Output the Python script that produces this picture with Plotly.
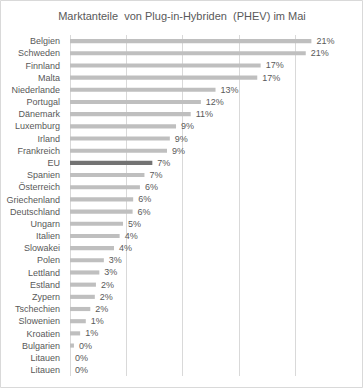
import plotly.graph_objects as go

countries = ["Belgien", "Schweden", "Finnland", "Malta", "Niederlande", "Portugal",
             "Dänemark", "Luxemburg", "Irland", "Frankreich", "EU", "Spanien",
             "Österreich", "Griechenland", "Deutschland", "Ungarn", "Italien",
             "Slowakei", "Polen", "Lettland", "Estland", "Zypern", "Tschechien",
             "Slowenien", "Kroatien", "Bulgarien", "Litauen", "Litauen"]
shares = [21.4, 20.9, 16.9, 16.6, 12.9, 11.6, 10.7, 9.4, 8.85, 8.6, 7.3, 6.6,
          6.2, 5.6, 5.55, 4.7, 4.4, 3.9, 3.0, 2.6, 2.3, 2.2, 1.8, 1.4, 0.9, 0.35, 0.0, 0.0]
x_ticks = [0, 5, 10, 15, 20, 25]

W, H = 364, 389
ml, mr, mt, mb = 70, 12, 35, 13

positions = list(range(len(countries)))
colors = ["#737373" if c == "EU" else "#BFBFBF" for c in countries]

fig = go.Figure(go.Bar(
    x=shares, y=positions, orientation="h",
    marker=dict(color=colors, line=dict(width=0)),
    texttemplate="  %{x:.0f}%", textposition="outside", constraintext="none",
    textfont=dict(family="Liberation Sans", size=9, color="#595959"),
    cliponaxis=False, hoverinfo="skip",
))

pw = W - ml - mr
ph = H - mt - mb
fig.add_shape(type="rect", xref="paper", yref="paper",
              x0=-(ml - 0.5) / pw, x1=1 + (mr - 1.5) / pw,
              y0=-(mb - 1.5) / ph, y1=1 + (mt - 0.5) / ph,
              line=dict(color="#D9D9D9", width=1), layer="below")

fig.update_layout(
    width=W, height=H,
    margin=dict(l=ml, r=mr, t=mt, b=mb, pad=0, autoexpand=False),
    paper_bgcolor="white", plot_bgcolor="white",
    bargap=0.66, showlegend=False,
    title=dict(text="Marktanteile  von Plug-in-Hybriden  (PHEV) im Mai",
               x=0.5, xref="container", xanchor="center", y=1 - 16 / H, yanchor="middle",
               font=dict(family="Liberation Sans", size=11, color="#595959")),
    xaxis=dict(range=[0, 25], tickvals=x_ticks, showticklabels=False,
               showgrid=True, gridcolor="#D9D9D9", gridwidth=1,
               zeroline=True, zerolinecolor="#D9D9D9", zerolinewidth=1,
               showline=False, fixedrange=True, automargin=False),
    yaxis=dict(range=[len(countries) - 0.5, -0.5], tickvals=positions, ticktext=countries,
               tickfont=dict(family="Liberation Sans", size=9, color="#595959"),
               ticks="", ticklabelstandoff=9, showgrid=False, zeroline=False,
               showline=False, fixedrange=True, automargin=False),
)

fig.write_html("out.html", config={"displayModeBar": False},
               post_script="document.body.style.margin='0px';")
